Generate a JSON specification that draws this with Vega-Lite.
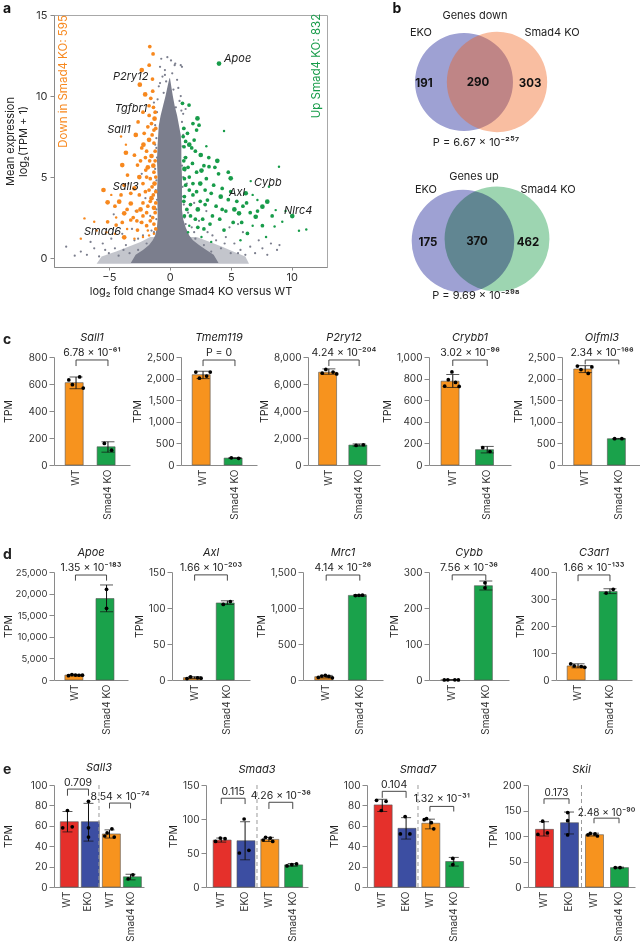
{
"$schema":"https://vega.github.io/schema/vega-lite/v6.json",
"padding":{"left":3,"top":2,"right":0,"bottom":0},
"background":"white",
"title":{"text":"a","anchor":"start","frame":"bounds","fontSize":14,"fontWeight":"bold","fontStyle":"normal","color":"#111","offset":-14},
"config":{
 "font":"Inter",
 "view":{"stroke":null},
 "legend":{"disable":true},
 "axis":{"grid":false,"labelOverlap":false,"labelSeparation":-50,"domainColor":"#8a8a8a","tickColor":"#8a8a8a","labelColor":"#333","titleColor":"#222","labelFontSize":10,"titleFontSize":10.5,"titleFontWeight":"normal","tickSize":5,"labelPadding":2,"titlePadding":4},
 "title":{"fontSize":11,"fontWeight":"normal","fontStyle":"italic","color":"#222","offset":5},
 "text":{"color":"#222"}
},
"datasets":{
 "core":[
  {"ya":-0.35,"xl":-6.0,"xr":6.5,"part":"b"},{"ya":0.1,"xl":-5.6,"xr":6.2,"part":"b"},{"ya":0.4,"xl":-4.4,"xr":5.2,"part":"b"},{"ya":0.7,"xl":-3.4,"xr":4.3,"part":"b"},{"ya":1.0,"xl":-2.4,"xr":3.3,"part":"b"},{"ya":1.3,"xl":-1.6,"xr":2.2,"part":"b"},
  {"ya":-0.3,"xl":-3.2,"xr":4.0,"part":"t"},{"ya":0.2,"xl":-2.8,"xr":3.6,"part":"t"},{"ya":0.5,"xl":-2.2,"xr":3.0,"part":"t"},{"ya":0.8,"xl":-1.7,"xr":2.4,"part":"t"},{"ya":1.1,"xl":-1.4,"xr":1.9,"part":"t"},{"ya":1.4,"xl":-1.2,"xr":1.6,"part":"t"},{"ya":1.9,"xl":-1.05,"xr":1.3,"part":"t"},{"ya":2.4,"xl":-1.0,"xr":1.1,"part":"t"},{"ya":3.0,"xl":-1.0,"xr":1.0,"part":"t"},{"ya":4.0,"xl":-1.05,"xr":1.0,"part":"t"},{"ya":5.0,"xl":-1.0,"xr":1.0,"part":"t"},{"ya":6.0,"xl":-1.05,"xr":0.95,"part":"t"},{"ya":7.0,"xl":-1.0,"xr":0.95,"part":"t"},{"ya":7.6,"xl":-0.95,"xr":0.9,"part":"t"},{"ya":8.2,"xl":-0.9,"xr":0.75,"part":"t"},{"ya":8.8,"xl":-0.75,"xr":0.6,"part":"t"},{"ya":9.4,"xl":-0.55,"xr":0.4,"part":"t"},{"ya":10.0,"xl":-0.35,"xr":0.25,"part":"t"},{"ya":10.6,"xl":-0.18,"xr":0.12,"part":"t"},{"ya":11.1,"xl":-0.03,"xr":0.02,"part":"t"}
 ],
 "sc":[
  {"x":-0.8,"y":11.8,"grp":"ns","p":1},{"x":-0.4,"y":11.6,"grp":"ns","p":1},{"x":0.1,"y":12.2,"grp":"ns","p":1},{"x":0.4,"y":11.9,"grp":"ns","p":1},{"x":1.0,"y":11.8,"grp":"ns","p":1},{"x":-0.6,"y":11.2,"grp":"ns","p":1},{"x":0.2,"y":11.4,"grp":"ns","p":1},{"x":-0.3,"y":10.9,"grp":"ns","p":1},{"x":0.6,"y":11.0,"grp":"ns","p":1},{"x":-0.9,"y":10.6,"grp":"ns","p":1},{"x":0.3,"y":10.4,"grp":"ns","p":1},{"x":0.9,"y":10.0,"grp":"ns","p":1},{"x":-0.5,"y":10.2,"grp":"ns","p":1},{"x":0.8,"y":9.7,"grp":"ns","p":1},{"x":1.3,"y":9.2,"grp":"ns","p":1},{"x":-1.0,"y":9.8,"grp":"ns","p":1},{"x":-0.2,"y":9.6,"grp":"ns","p":1},{"x":0.5,"y":9.3,"grp":"ns","p":1},{"x":1.1,"y":8.9,"grp":"ns","p":1},{"x":-1.2,"y":8.2,"grp":"ns","p":1},{"x":1.0,"y":8.4,"grp":"ns","p":1},{"x":-1.1,"y":6.8,"grp":"ns","p":1},{"x":1.1,"y":7.6,"grp":"ns","p":1},{"x":-1.2,"y":5.5,"grp":"ns","p":1},{"x":1.1,"y":5.0,"grp":"ns","p":1},{"x":1.2,"y":6.2,"grp":"ns","p":1},{"x":-1.15,"y":4.2,"grp":"ns","p":1},{"x":1.15,"y":3.3,"grp":"ns","p":1},{"x":-1.1,"y":3.0,"grp":"ns","p":1},{"x":1.2,"y":2.5,"grp":"ns","p":1},{"x":-8.5,"y":0.7,"grp":"ns","p":1},{"x":-7.3,"y":0.4,"grp":"ns","p":1},{"x":-6.8,"y":0.2,"grp":"ns","p":1},{"x":-6.2,"y":0.6,"grp":"ns","p":1},{"x":-5.8,"y":0.1,"grp":"ns","p":1},{"x":-5.5,"y":0.9,"grp":"ns","p":1},{"x":-5.0,"y":0.3,"grp":"ns","p":1},{"x":-4.8,"y":1.2,"grp":"ns","p":1},{"x":-4.5,"y":0.6,"grp":"ns","p":1},{"x":-4.2,"y":0.15,"grp":"ns","p":1},{"x":-3.9,"y":1.5,"grp":"ns","p":1},{"x":-3.6,"y":0.8,"grp":"ns","p":1},{"x":-3.3,"y":0.3,"grp":"ns","p":1},{"x":-3.1,"y":1.8,"grp":"ns","p":1},{"x":-2.9,"y":1.1,"grp":"ns","p":1},{"x":-2.6,"y":0.5,"grp":"ns","p":1},{"x":-2.4,"y":2.2,"grp":"ns","p":1},{"x":-2.2,"y":1.4,"grp":"ns","p":1},{"x":-1.9,"y":0.9,"grp":"ns","p":1},{"x":-1.6,"y":2.6,"grp":"ns","p":1},{"x":-1.5,"y":1.7,"grp":"ns","p":1},{"x":1.5,"y":2.8,"grp":"ns","p":1},{"x":1.8,"y":1.9,"grp":"ns","p":1},{"x":2.1,"y":1.2,"grp":"ns","p":1},{"x":2.4,"y":2.3,"grp":"ns","p":1},{"x":2.8,"y":0.8,"grp":"ns","p":1},{"x":3.1,"y":1.6,"grp":"ns","p":1},{"x":3.4,"y":0.4,"grp":"ns","p":1},{"x":3.8,"y":1.1,"grp":"ns","p":1},{"x":4.2,"y":0.6,"grp":"ns","p":1},{"x":4.6,"y":1.3,"grp":"ns","p":1},{"x":5.0,"y":0.3,"grp":"ns","p":1},{"x":5.3,"y":0.9,"grp":"ns","p":1},{"x":5.8,"y":0.5,"grp":"ns","p":1},{"x":6.2,"y":0.2,"grp":"ns","p":1},{"x":6.6,"y":0.7,"grp":"ns","p":1},{"x":7.0,"y":0.3,"grp":"ns","p":1},{"x":7.6,"y":0.6,"grp":"ns","p":1},{"x":8.3,"y":0.9,"grp":"ns","p":1},{"x":8.8,"y":0.5,"grp":"ns","p":1},{"x":9.0,"y":0.8,"grp":"ns","p":1},{"x":4.9,"y":1.9,"grp":"ns","p":1},{"x":5.6,"y":2.1,"grp":"ns","p":1},{"x":6.0,"y":1.6,"grp":"ns","p":1},{"x":-2.8,"y":2.9,"grp":"ns","p":1},{"x":-3.4,"y":4.6,"grp":"ns","p":1},{"x":-2.0,"y":3.7,"grp":"ns","p":1},{"x":-4.6,"y":2.7,"grp":"ns","p":1},{"x":-2.3,"y":5.2,"grp":"ns","p":1},{"x":-7.8,"y":0.15,"grp":"ns","p":1},{"x":-6.5,"y":1.0,"grp":"ns","p":1},{"x":7.3,"y":1.1,"grp":"ns","p":1},{"x":8.0,"y":0.2,"grp":"ns","p":1},{"x":2.0,"y":3.4,"grp":"ns","p":1},{"x":3.0,"y":2.9,"grp":"ns","p":1},{"x":-0.7,"y":12.3,"grp":"ns","p":1},{"x":0.9,"y":11.9,"grp":"ns","p":1},
  {"x":-1.05,"y":9.0,"grp":"ns","p":1},{"x":0.95,"y":9.1,"grp":"ns","p":1},{"x":-1.1,"y":7.4,"grp":"ns","p":1},{"x":1.05,"y":6.9,"grp":"ns","p":1},{"x":-1.05,"y":6.2,"grp":"ns","p":1},{"x":1.0,"y":5.7,"grp":"ns","p":1},{"x":-1.1,"y":4.8,"grp":"ns","p":1},{"x":1.05,"y":4.4,"grp":"ns","p":1},{"x":-1.05,"y":3.6,"grp":"ns","p":1},{"x":1.0,"y":3.8,"grp":"ns","p":1},{"x":-1.1,"y":2.4,"grp":"ns","p":1},{"x":1.3,"y":2.1,"grp":"ns","p":1},{"x":-1.3,"y":1.6,"grp":"ns","p":1},{"x":2.0,"y":1.6,"grp":"ns","p":1},{"x":-2.6,"y":1.2,"grp":"ns","p":1},{"x":3.5,"y":1.4,"grp":"ns","p":1},{"x":-3.8,"y":0.5,"grp":"ns","p":1},{"x":4.5,"y":0.9,"grp":"ns","p":1},{"x":-5.3,"y":0.5,"grp":"ns","p":1},{"x":5.6,"y":0.3,"grp":"ns","p":1},{"x":-0.8,"y":10.8,"grp":"ns","p":1},{"x":0.7,"y":10.5,"grp":"ns","p":1},{"x":-0.4,"y":11.3,"grp":"ns","p":1},{"x":0.45,"y":12.0,"grp":"ns","p":1},{"x":-1.3,"y":9.6,"grp":"ns","p":1},{"x":1.2,"y":8.0,"grp":"ns","p":1},{"x":-1.2,"y":7.0,"grp":"ns","p":1},{"x":1.25,"y":5.4,"grp":"ns","p":1},{"x":-0.2,"y":12.4,"grp":"ns","p":1},{"x":1.4,"y":4.6,"grp":"ns","p":1},
  {"x":-1.64,"y":13.05,"grp":"down","p":2},{"x":-1.37,"y":12.6,"grp":"down","p":2},{"x":-1.69,"y":11.9,"grp":"down","p":2},{"x":-2.3,"y":11.6,"grp":"down","p":3},{"x":-1.42,"y":11.05,"grp":"down","p":2},{"x":-2.46,"y":10.7,"grp":"down","p":3},{"x":-2.02,"y":10.1,"grp":"down","p":3},{"x":-1.56,"y":9.86,"grp":"down","p":2},{"x":-1.34,"y":9.3,"grp":"down","p":2},{"x":-1.2,"y":9.0,"grp":"down","p":2},{"x":-1.69,"y":8.8,"grp":"down","p":2},{"x":-1.25,"y":8.6,"grp":"down","p":3},{"x":-1.5,"y":8.3,"grp":"down","p":2},{"x":-2.1,"y":7.7,"grp":"down","p":2},{"x":-2.79,"y":7.6,"grp":"down","p":3},{"x":-4.0,"y":7.5,"grp":"down","p":1},{"x":-1.3,"y":7.9,"grp":"down","p":2},{"x":-1.7,"y":7.3,"grp":"down","p":3},{"x":-3.6,"y":7.0,"grp":"down","p":1},{"x":-2.16,"y":7.0,"grp":"down","p":3},{"x":-1.3,"y":7.1,"grp":"down","p":2},{"x":-1.9,"y":6.6,"grp":"down","p":2},{"x":-3.6,"y":6.5,"grp":"down","p":3},{"x":-2.9,"y":6.35,"grp":"down","p":2},{"x":-1.5,"y":6.3,"grp":"down","p":3},{"x":-1.2,"y":6.0,"grp":"down","p":2},{"x":-2.4,"y":6.0,"grp":"down","p":2},{"x":-3.9,"y":5.74,"grp":"down","p":3},{"x":-2.65,"y":5.74,"grp":"down","p":2},{"x":-1.8,"y":5.6,"grp":"down","p":3},{"x":-1.97,"y":5.43,"grp":"down","p":2},{"x":-1.3,"y":5.3,"grp":"down","p":2},{"x":-3.47,"y":5.12,"grp":"down","p":2},{"x":-2.5,"y":5.0,"grp":"down","p":3},{"x":-1.6,"y":4.9,"grp":"down","p":2},{"x":-2.2,"y":4.6,"grp":"down","p":2},{"x":-1.25,"y":4.6,"grp":"down","p":3},{"x":-5.44,"y":4.2,"grp":"down","p":3},{"x":-3.74,"y":4.5,"grp":"down","p":2},{"x":-2.9,"y":4.3,"grp":"down","p":3},{"x":-1.7,"y":4.2,"grp":"down","p":2},{"x":-4.8,"y":3.9,"grp":"down","p":1},{"x":-2.5,"y":3.9,"grp":"down","p":2},{"x":-1.35,"y":3.9,"grp":"down","p":2},{"x":-5.1,"y":3.44,"grp":"down","p":3},{"x":-4.15,"y":3.48,"grp":"down","p":3},{"x":-3.2,"y":3.37,"grp":"down","p":3},{"x":-2.2,"y":3.4,"grp":"down","p":2},{"x":-1.6,"y":3.5,"grp":"down","p":2},{"x":-4.5,"y":3.2,"grp":"down","p":2},{"x":-1.3,"y":3.1,"grp":"down","p":3},{"x":-3.74,"y":2.76,"grp":"down","p":3},{"x":-2.7,"y":2.9,"grp":"down","p":2},{"x":-1.9,"y":2.8,"grp":"down","p":2},{"x":-4.4,"y":2.5,"grp":"down","p":1},{"x":-3.0,"y":2.5,"grp":"down","p":2},{"x":-1.4,"y":2.5,"grp":"down","p":2},{"x":-7.0,"y":2.45,"grp":"down","p":1},{"x":-6.2,"y":2.24,"grp":"down","p":1},{"x":-5.1,"y":2.24,"grp":"down","p":2},{"x":-4.4,"y":2.04,"grp":"down","p":2},{"x":-3.2,"y":2.35,"grp":"down","p":2},{"x":-2.3,"y":2.2,"grp":"down","p":2},{"x":-1.3,"y":2.1,"grp":"down","p":2},{"x":-2.65,"y":1.73,"grp":"down","p":2},{"x":-3.5,"y":1.8,"grp":"down","p":1},{"x":-1.8,"y":1.7,"grp":"down","p":1},{"x":-7.3,"y":1.2,"grp":"down","p":1},{"x":-3.74,"y":1.28,"grp":"down","p":3},{"x":-4.5,"y":1.5,"grp":"down","p":1},{"x":-2.2,"y":1.3,"grp":"down","p":1},{"x":-5.2,"y":1.6,"grp":"down","p":1},{"x":-2.9,"y":1.2,"grp":"down","p":1},{"x":-6.0,"y":1.7,"grp":"down","p":1},
  {"x":-1.15,"y":8.0,"grp":"down","p":2},{"x":-1.45,"y":7.6,"grp":"down","p":2},{"x":-1.2,"y":6.6,"grp":"down","p":2},{"x":-1.65,"y":6.0,"grp":"down","p":2},{"x":-1.35,"y":5.7,"grp":"down","p":3},{"x":-1.15,"y":5.0,"grp":"down","p":2},{"x":-1.9,"y":5.0,"grp":"down","p":2},{"x":-1.45,"y":4.4,"grp":"down","p":2},{"x":-1.15,"y":4.1,"grp":"down","p":2},{"x":-2.0,"y":4.1,"grp":"down","p":2},{"x":-1.5,"y":3.7,"grp":"down","p":3},{"x":-1.15,"y":3.4,"grp":"down","p":2},{"x":-1.8,"y":3.2,"grp":"down","p":2},{"x":-2.4,"y":3.0,"grp":"down","p":3},{"x":-1.2,"y":2.8,"grp":"down","p":2},{"x":-1.6,"y":2.3,"grp":"down","p":2},{"x":-1.15,"y":1.8,"grp":"down","p":2},{"x":-1.9,"y":2.0,"grp":"down","p":2},{"x":-2.0,"y":6.2,"grp":"down","p":2},{"x":-2.3,"y":6.8,"grp":"down","p":2},{"x":-1.8,"y":8.1,"grp":"down","p":2},{"x":-1.4,"y":10.3,"grp":"down","p":2},{"x":-1.7,"y":9.4,"grp":"down","p":2},{"x":-2.2,"y":9.0,"grp":"down","p":2},{"x":-2.6,"y":8.4,"grp":"down","p":2},{"x":-3.2,"y":4.0,"grp":"down","p":2},{"x":-4.0,"y":3.9,"grp":"down","p":2},{"x":-3.5,"y":3.0,"grp":"down","p":2},{"x":-2.7,"y":2.3,"grp":"down","p":2},{"x":-3.9,"y":2.2,"grp":"down","p":2},{"x":-2.2,"y":2.6,"grp":"down","p":2},{"x":-1.3,"y":1.5,"grp":"down","p":1},{"x":-1.7,"y":1.4,"grp":"down","p":1},
  {"x":4.04,"y":12.0,"grp":"up","p":3},{"x":1.04,"y":9.55,"grp":"up","p":2},{"x":1.58,"y":9.44,"grp":"up","p":2},{"x":2.27,"y":8.62,"grp":"up","p":3},{"x":2.4,"y":8.2,"grp":"up","p":2},{"x":4.45,"y":7.84,"grp":"up","p":1},{"x":1.45,"y":7.7,"grp":"up","p":2},{"x":1.1,"y":7.5,"grp":"up","p":2},{"x":2.0,"y":7.28,"grp":"up","p":2},{"x":1.6,"y":7.0,"grp":"up","p":3},{"x":1.17,"y":6.87,"grp":"up","p":2},{"x":2.1,"y":6.6,"grp":"up","p":2},{"x":2.54,"y":6.36,"grp":"up","p":3},{"x":3.2,"y":6.2,"grp":"up","p":2},{"x":1.3,"y":6.2,"grp":"up","p":2},{"x":3.9,"y":6.0,"grp":"up","p":3},{"x":1.86,"y":5.84,"grp":"up","p":2},{"x":2.8,"y":5.7,"grp":"up","p":2},{"x":3.22,"y":5.64,"grp":"up","p":2},{"x":1.2,"y":5.5,"grp":"up","p":3},{"x":2.2,"y":5.3,"grp":"up","p":2},{"x":1.6,"y":5.0,"grp":"up","p":2},{"x":4.8,"y":5.3,"grp":"up","p":2},{"x":5.0,"y":4.92,"grp":"up","p":3},{"x":3.0,"y":4.9,"grp":"up","p":2},{"x":2.5,"y":4.6,"grp":"up","p":3},{"x":3.6,"y":4.5,"grp":"up","p":2},{"x":1.3,"y":4.5,"grp":"up","p":2},{"x":4.3,"y":4.3,"grp":"up","p":2},{"x":6.64,"y":4.75,"grp":"up","p":1},{"x":8.96,"y":5.64,"grp":"up","p":1},{"x":8.14,"y":4.4,"grp":"up","p":1},{"x":6.23,"y":4.0,"grp":"up","p":3},{"x":5.0,"y":4.1,"grp":"up","p":2},{"x":4.18,"y":3.79,"grp":"up","p":3},{"x":3.09,"y":3.58,"grp":"up","p":2},{"x":1.9,"y":3.9,"grp":"up","p":2},{"x":2.5,"y":3.5,"grp":"up","p":2},{"x":7.19,"y":3.58,"grp":"up","p":1},{"x":8.0,"y":3.48,"grp":"up","p":3},{"x":7.6,"y":3.17,"grp":"up","p":3},{"x":5.68,"y":2.76,"grp":"up","p":3},{"x":7.05,"y":2.55,"grp":"up","p":3},{"x":8.69,"y":2.96,"grp":"up","p":1},{"x":10.05,"y":2.59,"grp":"up","p":3},{"x":9.23,"y":2.24,"grp":"up","p":1},{"x":8.6,"y":1.95,"grp":"up","p":1},{"x":10.6,"y":1.69,"grp":"up","p":1},{"x":11.2,"y":1.77,"grp":"up","p":1},{"x":6.37,"y":1.52,"grp":"up","p":2},{"x":4.45,"y":1.73,"grp":"up","p":2},{"x":2.8,"y":1.8,"grp":"up","p":2},{"x":5.8,"y":1.1,"grp":"up","p":1},{"x":3.5,"y":2.6,"grp":"up","p":2},{"x":4.6,"y":2.9,"grp":"up","p":2},{"x":1.4,"y":3.0,"grp":"up","p":2},{"x":2.1,"y":2.4,"grp":"up","p":2},{"x":5.2,"y":2.2,"grp":"up","p":2},{"x":6.6,"y":2.8,"grp":"up","p":2},{"x":3.8,"y":3.2,"grp":"up","p":2},{"x":1.6,"y":2.0,"grp":"up","p":1},{"x":2.6,"y":1.3,"grp":"up","p":1},{"x":3.4,"y":1.0,"grp":"up","p":1},{"x":7.6,"y":2.0,"grp":"up","p":2},{"x":5.5,"y":3.5,"grp":"up","p":2},{"x":6.0,"y":3.2,"grp":"up","p":2},{"x":1.2,"y":3.8,"grp":"up","p":2},{"x":4.0,"y":5.2,"grp":"up","p":2},{"x":6.8,"y":2.0,"grp":"up","p":1},{"x":7.9,"y":1.3,"grp":"up","p":1},{"x":9.5,"y":2.9,"grp":"up","p":1},
  {"x":1.15,"y":8.0,"grp":"up","p":2},{"x":1.3,"y":7.2,"grp":"up","p":2},{"x":1.8,"y":6.8,"grp":"up","p":2},{"x":1.15,"y":6.0,"grp":"up","p":2},{"x":1.5,"y":5.6,"grp":"up","p":2},{"x":2.6,"y":5.4,"grp":"up","p":3},{"x":1.2,"y":4.9,"grp":"up","p":2},{"x":1.9,"y":4.6,"grp":"up","p":2},{"x":1.6,"y":4.2,"grp":"up","p":2},{"x":2.2,"y":4.1,"grp":"up","p":2},{"x":1.15,"y":3.5,"grp":"up","p":2},{"x":2.9,"y":4.2,"grp":"up","p":2},{"x":3.4,"y":4.0,"grp":"up","p":2},{"x":1.7,"y":3.3,"grp":"up","p":2},{"x":2.3,"y":3.0,"grp":"up","p":3},{"x":2.9,"y":3.3,"grp":"up","p":2},{"x":1.2,"y":2.6,"grp":"up","p":2},{"x":1.7,"y":2.6,"grp":"up","p":2},{"x":2.7,"y":2.4,"grp":"up","p":2},{"x":4.1,"y":2.4,"grp":"up","p":2},{"x":3.3,"y":2.1,"grp":"up","p":2},{"x":2.3,"y":1.9,"grp":"up","p":2},{"x":1.5,"y":1.6,"grp":"up","p":1},{"x":4.8,"y":3.6,"grp":"up","p":2},{"x":5.3,"y":3.0,"grp":"up","p":3},{"x":6.3,"y":3.4,"grp":"up","p":2},{"x":4.3,"y":3.0,"grp":"up","p":2},{"x":3.7,"y":5.6,"grp":"up","p":2},{"x":2.2,"y":7.9,"grp":"up","p":2},{"x":1.9,"y":8.3,"grp":"up","p":2},{"x":3.0,"y":6.9,"grp":"up","p":1},{"x":5.9,"y":2.2,"grp":"up","p":2},{"x":7.2,"y":2.9,"grp":"up","p":2},{"x":6.8,"y":3.9,"grp":"up","p":1},{"x":8.4,"y":2.6,"grp":"up","p":2}
 ],
 "glab":[
  {"lab":"P2ry12","x":-1.75,"y":11.2,"side":"down"},{"lab":"Tgfbr1","x":-1.85,"y":9.2,"side":"down"},{"lab":"Sall1","x":-3.2,"y":7.9,"side":"down"},{"lab":"Sall3","x":-2.55,"y":4.4,"side":"down"},{"lab":"Smad6","x":-4.0,"y":1.58,"side":"down"},
  {"lab":"Apoe","x":4.45,"y":12.3,"side":"up"},{"lab":"Cybb","x":6.9,"y":4.65,"side":"up"},{"lab":"Axl","x":4.86,"y":4.03,"side":"up"},{"lab":"Nlrc4","x":9.37,"y":2.9,"side":"up"}
 ],
 "side":[
  {"t":"Down in Smad4 KO: 595","x":-8.7,"y":10.9,"grp":"down"},
  {"t":"Up Smad4 KO: 832","x":12.1,"y":11.85,"grp":"up"}
 ],
 "vc":[
  {"set":"EKO down","x":124,"y":82},{"set":"Smad4 KO down","x":157,"y":82},{"set":"EKO up","x":123,"y":241},{"set":"Smad4 KO up","x":157,"y":239}
 ],
 "vt":[
  {"t":"b","x":57,"y":9,"k":"l"},
  {"t":"Genes down","x":135,"y":16,"k":"h"},{"t":"EKO","x":81,"y":33,"k":"h"},{"t":"Smad4 KO","x":212,"y":33,"k":"h"},
  {"t":"191","x":84,"y":84,"k":"n"},{"t":"290","x":138,"y":83,"k":"n"},{"t":"303","x":190,"y":84,"k":"n"},
  {"t":"P = 6.67 × 10⁻²⁵⁷","x":136,"y":143,"k":"h"},
  {"t":"Genes up","x":134,"y":177,"k":"h"},{"t":"EKO","x":86,"y":190,"k":"h"},{"t":"Smad4 KO","x":208,"y":190,"k":"h"},
  {"t":"175","x":88,"y":243,"k":"n"},{"t":"370","x":137,"y":242,"k":"n"},{"t":"462","x":188,"y":243,"k":"n"},
  {"t":"P = 9.69 × 10⁻²⁹⁸","x":136,"y":296,"k":"h"}
 ],
 "bars":[
  {"g":"Sall1","c":"WT","m":610,"lo":565,"hi":652},{"g":"Sall1","c":"Smad4 KO","m":135,"lo":95,"hi":172},
  {"g":"Tmem119","c":"WT","m":2090,"lo":2000,"hi":2170},{"g":"Tmem119","c":"Smad4 KO","m":160,"lo":150,"hi":170},
  {"g":"P2ry12","c":"WT","m":6870,"lo":6720,"hi":7120},{"g":"P2ry12","c":"Smad4 KO","m":1475,"lo":1400,"hi":1560},
  {"g":"Crybb1","c":"WT","m":776,"lo":718,"hi":838},{"g":"Crybb1","c":"Smad4 KO","m":142,"lo":112,"hi":172},
  {"g":"Olfml3","c":"WT","m":2222,"lo":2140,"hi":2300},{"g":"Olfml3","c":"Smad4 KO","m":608,"lo":600,"hi":615},
  {"g":"Apoe","c":"WT","m":1130,"lo":950,"hi":1300},{"g":"Apoe","c":"Smad4 KO","m":18850,"lo":15800,"hi":22000},
  {"g":"Axl","c":"WT","m":3.3,"lo":2,"hi":4.6},{"g":"Axl","c":"Smad4 KO","m":107,"lo":105,"hi":110},
  {"g":"Mrc1","c":"WT","m":46,"lo":28,"hi":64},{"g":"Mrc1","c":"Smad4 KO","m":1175,"lo":1165,"hi":1185},
  {"g":"Cybb","c":"WT","m":0.4,"lo":0.1,"hi":0.7},{"g":"Cybb","c":"Smad4 KO","m":262,"lo":250,"hi":275},
  {"g":"C3ar1","c":"WT","m":52,"lo":45,"hi":60},{"g":"C3ar1","c":"Smad4 KO","m":328,"lo":320,"hi":338},
  {"g":"Sall3","c":"WT ","m":64,"lo":54,"hi":74},{"g":"Sall3","c":"EKO","m":64,"lo":45,"hi":82},{"g":"Sall3","c":"WT","m":52,"lo":48,"hi":56},{"g":"Sall3","c":"Smad4 KO","m":10,"lo":7,"hi":12.5},
  {"g":"Smad3","c":"WT ","m":69,"lo":66,"hi":72},{"g":"Smad3","c":"EKO","m":68,"lo":40,"hi":96},{"g":"Smad3","c":"WT","m":70,"lo":67,"hi":73},{"g":"Smad3","c":"Smad4 KO","m":32.5,"lo":30.5,"hi":34.5},
  {"g":"Smad7","c":"WT ","m":80.5,"lo":74,"hi":86},{"g":"Smad7","c":"EKO","m":57.5,"lo":47,"hi":68},{"g":"Smad7","c":"WT","m":62.5,"lo":57,"hi":66.5},{"g":"Smad7","c":"Smad4 KO","m":25,"lo":20.5,"hi":29},
  {"g":"Skil","c":"WT ","m":113,"lo":100,"hi":128},{"g":"Skil","c":"EKO","m":126,"lo":104,"hi":147},{"g":"Skil","c":"WT","m":102.5,"lo":100,"hi":105.5},{"g":"Skil","c":"Smad4 KO","m":38,"lo":37,"hi":39}
 ],
 "reps":[
  {"g":"Sall1","c":"WT","r":1,"v":630},{"g":"Sall1","c":"WT","r":2,"v":595},{"g":"Sall1","c":"WT","r":4,"v":652},{"g":"Sall1","c":"WT","r":5,"v":570},{"g":"Sall1","c":"Smad4 KO","r":2,"v":160},{"g":"Sall1","c":"Smad4 KO","r":4,"v":110},
  {"g":"Tmem119","c":"WT","r":1,"v":2150},{"g":"Tmem119","c":"WT","r":2,"v":2010},{"g":"Tmem119","c":"WT","r":4,"v":2060},{"g":"Tmem119","c":"WT","r":5,"v":2150},{"g":"Tmem119","c":"Smad4 KO","r":2,"v":165},{"g":"Tmem119","c":"Smad4 KO","r":4,"v":155},
  {"g":"P2ry12","c":"WT","r":1,"v":6800},{"g":"P2ry12","c":"WT","r":2,"v":7080},{"g":"P2ry12","c":"WT","r":4,"v":6880},{"g":"P2ry12","c":"WT","r":5,"v":6750},{"g":"P2ry12","c":"Smad4 KO","r":2,"v":1450},{"g":"P2ry12","c":"Smad4 KO","r":4,"v":1500},
  {"g":"Crybb1","c":"WT","r":1,"v":730},{"g":"Crybb1","c":"WT","r":2,"v":790},{"g":"Crybb1","c":"WT","r":3,"v":862},{"g":"Crybb1","c":"WT","r":4,"v":765},{"g":"Crybb1","c":"WT","r":5,"v":728},{"g":"Crybb1","c":"Smad4 KO","r":2,"v":160},{"g":"Crybb1","c":"Smad4 KO","r":4,"v":125},
  {"g":"Olfml3","c":"WT","r":1,"v":2290},{"g":"Olfml3","c":"WT","r":2,"v":2210},{"g":"Olfml3","c":"WT","r":4,"v":2120},{"g":"Olfml3","c":"WT","r":5,"v":2270},{"g":"Olfml3","c":"Smad4 KO","r":2,"v":610},{"g":"Olfml3","c":"Smad4 KO","r":4,"v":608},
  {"g":"Apoe","c":"WT","r":1,"v":1000},{"g":"Apoe","c":"WT","r":2,"v":1250},{"g":"Apoe","c":"WT","r":3,"v":1150},{"g":"Apoe","c":"WT","r":4,"v":1100},{"g":"Apoe","c":"WT","r":5,"v":1120},{"g":"Apoe","c":"Smad4 KO","r":3,"v":21000},{"g":"Apoe","c":"Smad4 KO","r":3,"v":16600},
  {"g":"Axl","c":"WT","r":1,"v":2},{"g":"Axl","c":"WT","r":2,"v":4.5},{"g":"Axl","c":"WT","r":4,"v":3},{"g":"Axl","c":"WT","r":5,"v":2.5},{"g":"Axl","c":"Smad4 KO","r":2,"v":105},{"g":"Axl","c":"Smad4 KO","r":4,"v":109},
  {"g":"Mrc1","c":"WT","r":1,"v":35},{"g":"Mrc1","c":"WT","r":2,"v":55},{"g":"Mrc1","c":"WT","r":3,"v":65},{"g":"Mrc1","c":"WT","r":4,"v":50},{"g":"Mrc1","c":"WT","r":5,"v":30},{"g":"Mrc1","c":"Smad4 KO","r":2,"v":1172},{"g":"Mrc1","c":"Smad4 KO","r":3,"v":1176},{"g":"Mrc1","c":"Smad4 KO","r":4,"v":1178},
  {"g":"Cybb","c":"WT","r":1,"v":0.3},{"g":"Cybb","c":"WT","r":2,"v":0.5},{"g":"Cybb","c":"WT","r":4,"v":0.4},{"g":"Cybb","c":"WT","r":5,"v":0.3},{"g":"Cybb","c":"Smad4 KO","r":3,"v":270},{"g":"Cybb","c":"Smad4 KO","r":3,"v":256},
  {"g":"C3ar1","c":"WT","r":1,"v":60},{"g":"C3ar1","c":"WT","r":2,"v":52},{"g":"C3ar1","c":"WT","r":4,"v":50},{"g":"C3ar1","c":"WT","r":5,"v":47},{"g":"C3ar1","c":"Smad4 KO","r":2,"v":322},{"g":"C3ar1","c":"Smad4 KO","r":4,"v":336},
  {"g":"Sall3","c":"WT ","r":1,"v":58},{"g":"Sall3","c":"WT ","r":3,"v":75},{"g":"Sall3","c":"WT ","r":5,"v":59},{"g":"Sall3","c":"EKO","r":3,"v":84},{"g":"Sall3","c":"EKO","r":3,"v":58},{"g":"Sall3","c":"EKO","r":3,"v":49},{"g":"Sall3","c":"WT","r":1,"v":50},{"g":"Sall3","c":"WT","r":2,"v":53},{"g":"Sall3","c":"WT","r":4,"v":57},{"g":"Sall3","c":"WT","r":5,"v":49},{"g":"Sall3","c":"Smad4 KO","r":2,"v":8},{"g":"Sall3","c":"Smad4 KO","r":4,"v":12},
  {"g":"Smad3","c":"WT ","r":1,"v":67},{"g":"Smad3","c":"WT ","r":3,"v":72},{"g":"Smad3","c":"WT ","r":5,"v":71},{"g":"Smad3","c":"EKO","r":3,"v":100},{"g":"Smad3","c":"EKO","r":1,"v":50},{"g":"Smad3","c":"EKO","r":5,"v":54},{"g":"Smad3","c":"WT","r":1,"v":69},{"g":"Smad3","c":"WT","r":2,"v":73},{"g":"Smad3","c":"WT","r":4,"v":72},{"g":"Smad3","c":"WT","r":5,"v":67},{"g":"Smad3","c":"Smad4 KO","r":1,"v":31},{"g":"Smad3","c":"Smad4 KO","r":3,"v":33},{"g":"Smad3","c":"Smad4 KO","r":5,"v":34},
  {"g":"Smad7","c":"WT ","r":1,"v":85},{"g":"Smad7","c":"WT ","r":3,"v":75},{"g":"Smad7","c":"WT ","r":5,"v":84},{"g":"Smad7","c":"EKO","r":3,"v":69},{"g":"Smad7","c":"EKO","r":1,"v":52},{"g":"Smad7","c":"EKO","r":5,"v":52},{"g":"Smad7","c":"WT","r":1,"v":66},{"g":"Smad7","c":"WT","r":2,"v":67},{"g":"Smad7","c":"WT","r":4,"v":63},{"g":"Smad7","c":"WT","r":5,"v":57},{"g":"Smad7","c":"Smad4 KO","r":3,"v":28},{"g":"Smad7","c":"Smad4 KO","r":3,"v":22},
  {"g":"Skil","c":"WT ","r":1,"v":103},{"g":"Skil","c":"WT ","r":3,"v":129},{"g":"Skil","c":"WT ","r":5,"v":106},{"g":"Skil","c":"EKO","r":3,"v":146},{"g":"Skil","c":"EKO","r":3,"v":130},{"g":"Skil","c":"EKO","r":3,"v":102},{"g":"Skil","c":"WT","r":1,"v":102},{"g":"Skil","c":"WT","r":2,"v":105},{"g":"Skil","c":"WT","r":4,"v":104},{"g":"Skil","c":"WT","r":5,"v":100},{"g":"Skil","c":"Smad4 KO","r":2,"v":38},{"g":"Skil","c":"Smad4 KO","r":4,"v":38}
 ],
 "brk":[
  {"g":"Sall1","id":1,"c":"WT","o":1,"y":733},{"g":"Sall1","id":1,"c":"WT","o":2,"y":778},{"g":"Sall1","id":1,"c":"Smad4 KO","o":3,"y":778},{"g":"Sall1","id":1,"c":"Smad4 KO","o":4,"y":733},
  {"g":"Tmem119","id":1,"c":"WT","o":1,"y":2290},{"g":"Tmem119","id":1,"c":"WT","o":2,"y":2430},{"g":"Tmem119","id":1,"c":"Smad4 KO","o":3,"y":2430},{"g":"Tmem119","id":1,"c":"Smad4 KO","o":4,"y":2290},
  {"g":"P2ry12","id":1,"c":"WT","o":1,"y":7330},{"g":"P2ry12","id":1,"c":"WT","o":2,"y":7780},{"g":"P2ry12","id":1,"c":"Smad4 KO","o":3,"y":7780},{"g":"P2ry12","id":1,"c":"Smad4 KO","o":4,"y":7330},
  {"g":"Crybb1","id":1,"c":"WT","o":1,"y":917},{"g":"Crybb1","id":1,"c":"WT","o":2,"y":972},{"g":"Crybb1","id":1,"c":"Smad4 KO","o":3,"y":972},{"g":"Crybb1","id":1,"c":"Smad4 KO","o":4,"y":917},
  {"g":"Olfml3","id":1,"c":"WT","o":1,"y":2330},{"g":"Olfml3","id":1,"c":"WT","o":2,"y":2430},{"g":"Olfml3","id":1,"c":"Smad4 KO","o":3,"y":2430},{"g":"Olfml3","id":1,"c":"Smad4 KO","o":4,"y":2330},
  {"g":"Apoe","id":1,"c":"WT","o":1,"y":23000},{"g":"Apoe","id":1,"c":"WT","o":2,"y":24300},{"g":"Apoe","id":1,"c":"Smad4 KO","o":3,"y":24300},{"g":"Apoe","id":1,"c":"Smad4 KO","o":4,"y":23000},
  {"g":"Axl","id":1,"c":"WT","o":1,"y":138},{"g":"Axl","id":1,"c":"WT","o":2,"y":146},{"g":"Axl","id":1,"c":"Smad4 KO","o":3,"y":146},{"g":"Axl","id":1,"c":"Smad4 KO","o":4,"y":138},
  {"g":"Mrc1","id":1,"c":"WT","o":1,"y":1380},{"g":"Mrc1","id":1,"c":"WT","o":2,"y":1458},{"g":"Mrc1","id":1,"c":"Smad4 KO","o":3,"y":1458},{"g":"Mrc1","id":1,"c":"Smad4 KO","o":4,"y":1380},
  {"g":"Cybb","id":1,"c":"WT","o":1,"y":277},{"g":"Cybb","id":1,"c":"WT","o":2,"y":292},{"g":"Cybb","id":1,"c":"Smad4 KO","o":3,"y":292},{"g":"Cybb","id":1,"c":"Smad4 KO","o":4,"y":277},
  {"g":"C3ar1","id":1,"c":"WT","o":1,"y":366},{"g":"C3ar1","id":1,"c":"WT","o":2,"y":389},{"g":"C3ar1","id":1,"c":"Smad4 KO","o":3,"y":389},{"g":"C3ar1","id":1,"c":"Smad4 KO","o":4,"y":366},
  {"g":"Sall3","id":1,"c":"WT ","o":1,"y":89.5},{"g":"Sall3","id":1,"c":"WT ","o":2,"y":96},{"g":"Sall3","id":1,"c":"EKO","o":3,"y":96},{"g":"Sall3","id":1,"c":"EKO","o":4,"y":89.5},
  {"g":"Sall3","id":2,"c":"WT","o":1,"y":77},{"g":"Sall3","id":2,"c":"WT","o":2,"y":82.3},{"g":"Sall3","id":2,"c":"Smad4 KO","o":3,"y":82.3},{"g":"Sall3","id":2,"c":"Smad4 KO","o":4,"y":77},
  {"g":"Smad3","id":1,"c":"WT ","o":1,"y":122},{"g":"Smad3","id":1,"c":"WT ","o":2,"y":130.5},{"g":"Smad3","id":1,"c":"EKO","o":3,"y":130.5},{"g":"Smad3","id":1,"c":"EKO","o":4,"y":122},
  {"g":"Smad3","id":2,"c":"WT","o":1,"y":114.8},{"g":"Smad3","id":2,"c":"WT","o":2,"y":124.6},{"g":"Smad3","id":2,"c":"Smad4 KO","o":3,"y":124.6},{"g":"Smad3","id":2,"c":"Smad4 KO","o":4,"y":114.8},
  {"g":"Smad7","id":1,"c":"WT ","o":1,"y":87.4},{"g":"Smad7","id":1,"c":"WT ","o":2,"y":93.8},{"g":"Smad7","id":1,"c":"EKO","o":3,"y":93.8},{"g":"Smad7","id":1,"c":"EKO","o":4,"y":87.4},
  {"g":"Smad7","id":2,"c":"WT","o":1,"y":74},{"g":"Smad7","id":2,"c":"WT","o":2,"y":79},{"g":"Smad7","id":2,"c":"Smad4 KO","o":3,"y":79},{"g":"Smad7","id":2,"c":"Smad4 KO","o":4,"y":74},
  {"g":"Skil","id":1,"c":"WT ","o":1,"y":163},{"g":"Skil","id":1,"c":"WT ","o":2,"y":173},{"g":"Skil","id":1,"c":"EKO","o":3,"y":173},{"g":"Skil","id":1,"c":"EKO","o":4,"y":163},
  {"g":"Skil","id":2,"c":"WT","o":1,"y":125},{"g":"Skil","id":2,"c":"WT","o":2,"y":135},{"g":"Skil","id":2,"c":"Smad4 KO","o":3,"y":135},{"g":"Skil","id":2,"c":"Smad4 KO","o":4,"y":125}
 ],
 "pv":[
  {"g":"Sall1","c":"WT","y":830,"t":"6.78 × 10⁻⁶¹"},
  {"g":"Tmem119","c":"WT","y":2593,"t":"P = 0"},
  {"g":"P2ry12","c":"WT","y":8296,"t":"4.24 × 10⁻²⁰⁴"},
  {"g":"Crybb1","c":"WT","y":1037,"t":"3.02 × 10⁻⁹⁶"},
  {"g":"Olfml3","c":"WT","y":2593,"t":"2.34 × 10⁻¹⁶⁶"},
  {"g":"Apoe","c":"WT","y":25920,"t":"1.35 × 10⁻¹⁸³"},
  {"g":"Axl","c":"WT","y":155.5,"t":"1.66 × 10⁻²⁰³"},
  {"g":"Mrc1","c":"WT","y":1555,"t":"4.14 × 10⁻²⁶"},
  {"g":"Cybb","c":"WT","y":311,"t":"7.56 × 10⁻³⁶"},
  {"g":"C3ar1","c":"WT","y":415,"t":"1.66 × 10⁻¹³³"},
  {"g":"Sall3","c":"WT ","y":102,"t":"0.709"},{"g":"Sall3","c":"WT","y":88,"t":"8.54 × 10⁻⁷⁴"},
  {"g":"Smad3","c":"WT ","y":139,"t":"0.115"},{"g":"Smad3","c":"WT","y":134,"t":"4.26 × 10⁻³⁶"},
  {"g":"Smad7","c":"WT ","y":100,"t":"0.104"},{"g":"Smad7","c":"WT","y":86,"t":"1.32 × 10⁻³¹"},
  {"g":"Skil","c":"WT ","y":185,"t":"0.173"},{"g":"Skil","c":"WT","y":146,"t":"2.48 × 10⁻⁹⁰"}
 ]
},
"resolve":{"scale":{"color":"independent","size":"independent","x":"independent","y":"independent","xOffset":"independent"}},
"align":"none",
"spacing":26,
"vconcat":[
 {"spacing":4,"align":"each",
  "resolve":{"scale":{"color":"independent","size":"independent"}},
  "hconcat":[
  {"width":273,"height":252,
   "view":{"stroke":"#a8a8a8"},
   "layer":[
    {"data":{"name":"core"},"transform":[{"filter":"datum.part=='b'"}],"mark":{"type":"area","orient":"horizontal","color":"#7b7e8d","opacity":0.45},
     "encoding":{"y":{"field":"ya","type":"quantitative","title":["Mean expression","log₂(TPM + 1)"],"scale":{"domain":[-0.55,15],"nice":false,"zero":false},"axis":{"values":[0,5,10,15],"labelOverlap":false,"labelFontSize":11,"titleFontSize":11,"titlePadding":4,"tickSize":4,"labelPadding":3,"minExtent":22,"maxExtent":22}},
      "x":{"field":"xl","type":"quantitative","title":"log₂ fold change Smad4 KO versus WT","scale":{"domain":[-9.5,12.9],"nice":false,"zero":false},"axis":{"values":[-5,0,5,10],"labelOverlap":false,"labelFontSize":11,"titleFontSize":11,"titlePadding":3,"tickSize":3,"labelPadding":1}},
      "x2":{"field":"xr"}}},
    {"data":{"name":"core"},"transform":[{"filter":"datum.part=='t'"}],"mark":{"type":"area","orient":"horizontal","color":"#7b7e8d","opacity":1},
     "encoding":{"y":{"field":"ya","type":"quantitative","title":["Mean expression","log₂(TPM + 1)"]},"x":{"field":"xl","type":"quantitative","title":"log₂ fold change Smad4 KO versus WT"},"x2":{"field":"xr"}}},
    {"data":{"name":"sc"},"transform":[{"filter":"datum.grp=='ns'"}],"mark":{"type":"circle","color":"#7b7e8d","size":5,"opacity":1},
     "encoding":{"x":{"field":"x","type":"quantitative","title":"log₂ fold change Smad4 KO versus WT"},"y":{"field":"y","type":"quantitative","title":["Mean expression","log₂(TPM + 1)"]}}},
    {"data":{"name":"sc"},"transform":[{"filter":"datum.grp!='ns'"}],"mark":{"type":"circle","opacity":1},
     "encoding":{"x":{"field":"x","type":"quantitative","title":"log₂ fold change Smad4 KO versus WT"},"y":{"field":"y","type":"quantitative","title":["Mean expression","log₂(TPM + 1)"]},
      "color":{"field":"grp","type":"nominal","scale":{"domain":["down","up"],"range":["#f7881e","#189c4a"]},"legend":null},
      "size":{"field":"p","type":"ordinal","scale":{"domain":[1,2,3],"range":[6,22,50]},"legend":null}}},
    {"data":{"name":"glab"},"transform":[{"filter":"datum.side=='down'"}],"mark":{"type":"text","align":"right","baseline":"middle","fontStyle":"italic","fontSize":11},
     "encoding":{"x":{"field":"x","type":"quantitative","title":"log₂ fold change Smad4 KO versus WT"},"y":{"field":"y","type":"quantitative","title":["Mean expression","log₂(TPM + 1)"]},"text":{"field":"lab"}}},
    {"data":{"name":"glab"},"transform":[{"filter":"datum.side=='up'"}],"mark":{"type":"text","align":"left","baseline":"middle","fontStyle":"italic","fontSize":11},
     "encoding":{"x":{"field":"x","type":"quantitative","title":"log₂ fold change Smad4 KO versus WT"},"y":{"field":"y","type":"quantitative","title":["Mean expression","log₂(TPM + 1)"]},"text":{"field":"lab"}}},
    {"data":{"name":"side"},"mark":{"type":"text","angle":270,"align":"center","baseline":"middle","fontSize":11.5},
     "encoding":{"x":{"field":"x","type":"quantitative","title":"log₂ fold change Smad4 KO versus WT"},"y":{"field":"y","type":"quantitative","title":["Mean expression","log₂(TPM + 1)"]},"text":{"field":"t"},
      "color":{"field":"grp","type":"nominal","scale":{"domain":["down","up"],"range":["#f7881e","#189c4a"]},"legend":null}}}
   ]},
  {"width":296,"height":290,
   "layer":[
    {"data":{"name":"vc"},"transform":[{"filter":"datum.set=='EKO down' || datum.set=='EKO up'"}],"mark":{"type":"point","filled":true,"shape":"circle","opacity":1,"strokeWidth":0,"color":"#9ea1d3"},
     "encoding":{"x":{"field":"x","type":"quantitative","scale":{"domain":[-8,288],"nice":false,"zero":false},"axis":null},
      "y":{"field":"y","type":"quantitative","scale":{"domain":[15,305],"nice":false,"zero":false,"reverse":true},"axis":null},
      "size":{"field":"set","type":"ordinal","scale":{"domain":["EKO down","Smad4 KO down","EKO up","Smad4 KO up"],"range":[9600,11000,9200,10800]},"legend":null}}},
    {"data":{"name":"vc"},"transform":[{"filter":"datum.set=='Smad4 KO down'"}],"mark":{"type":"point","filled":true,"shape":"circle","opacity":0.4,"strokeWidth":0,"color":"#f05c14"},
     "encoding":{"x":{"field":"x","type":"quantitative"},"y":{"field":"y","type":"quantitative"},
      "size":{"field":"set","type":"ordinal","scale":{"domain":["EKO down","Smad4 KO down","EKO up","Smad4 KO up"],"range":[9600,11000,9200,10800]},"legend":null}}},
    {"data":{"name":"vc"},"transform":[{"filter":"datum.set=='Smad4 KO up'"}],"mark":{"type":"point","filled":true,"shape":"circle","opacity":1,"strokeWidth":0,"color":"#9dd5b1","blend":"multiply"},
     "encoding":{"x":{"field":"x","type":"quantitative"},"y":{"field":"y","type":"quantitative"},
      "size":{"field":"set","type":"ordinal","scale":{"domain":["EKO down","Smad4 KO down","EKO up","Smad4 KO up"],"range":[9600,11000,9200,10800]},"legend":null}}},
    {"data":{"name":"vt"},"transform":[{"filter":"datum.k=='h'"}],"mark":{"type":"text","fontSize":11,"baseline":"middle"},
     "encoding":{"x":{"field":"x","type":"quantitative"},"y":{"field":"y","type":"quantitative"},"text":{"field":"t"}}},
    {"data":{"name":"vt"},"transform":[{"filter":"datum.k=='n'"}],"mark":{"type":"text","fontSize":11.5,"fontWeight":"bold","baseline":"middle","color":"#111"},
     "encoding":{"x":{"field":"x","type":"quantitative"},"y":{"field":"y","type":"quantitative"},"text":{"field":"t"}}},
    {"data":{"name":"vt"},"transform":[{"filter":"datum.k=='l'"}],"mark":{"type":"text","fontSize":14,"fontWeight":"bold","baseline":"middle","color":"#111"},
     "encoding":{"x":{"field":"x","type":"quantitative"},"y":{"field":"y","type":"quantitative"},"text":{"field":"t"}}}
   ]}
 ]},
 {"title":{"text":"c","anchor":"start","frame":"bounds","fontSize":14,"fontWeight":"bold","fontStyle":"normal","offset":-15},
  "spacing":2,"align":"each",
  "hconcat":[
   {"width":76,"height":108,"title":"Sall1","resolve":{"axis":{"y":"independent"}},"layer":[
    {"data":{"name":"bars"},"transform":[{"filter":{"field":"g","equal":"Sall1"}}],"mark":{"type":"bar","stroke":"#555","strokeWidth":0.6},"encoding":{"x":{"field":"c","type":"nominal","title":null,"scale":{"domain":["WT","Smad4 KO"],"paddingInner":0.32,"paddingOuter":0.35},"axis":{"labelAngle":-90,"ticks":false,"labelPadding":4}},"y":{"field":"m","type":"quantitative","title":"TPM","scale":{"domain":[0,800],"nice":false},"axis":{"values":[0,200,400,600,800],"labelOverlap":false,"labelSeparation":-60,"minExtent":37,"maxExtent":37}},"color":{"field":"c","type":"nominal","scale":{"domain":["WT","Smad4 KO","WT ","EKO"],"range":["#f7931e","#1aa24b","#e5302b","#3c4ea2"]},"legend":null}}},
    {"data":{"name":"bars"},"transform":[{"filter":{"field":"g","equal":"Sall1"}}],"mark":{"type":"errorbar","ticks":{"size":13},"color":"#111","thickness":1},"encoding":{"x":{"field":"c","type":"nominal","title":null},"y":{"field":"lo","type":"quantitative","title":"TPM","axis":null},"y2":{"field":"hi"}}},
    {"data":{"name":"reps"},"transform":[{"filter":{"field":"g","equal":"Sall1"}}],"mark":{"type":"circle","color":"#000","size":14,"opacity":1},"encoding":{"x":{"field":"c","type":"nominal","title":null},"xOffset":{"field":"r","type":"ordinal","scale":{"domain":[1,2,3,4,5],"paddingOuter":1}},"y":{"field":"v","type":"quantitative","title":"TPM","axis":null}}},
    {"data":{"name":"brk"},"transform":[{"filter":{"field":"g","equal":"Sall1"}}],"mark":{"type":"line","color":"#333","strokeWidth":0.9},"encoding":{"x":{"field":"c","type":"nominal","title":null},"y":{"field":"y","type":"quantitative","title":"TPM","axis":null},"order":{"field":"o","type":"quantitative"},"detail":{"field":"id","type":"nominal"}}},
    {"data":{"name":"pv"},"transform":[{"filter":{"field":"g","equal":"Sall1"}}],"mark":{"type":"text","fontSize":10.5,"baseline":"middle"},"encoding":{"x":{"field":"c","type":"nominal","title":null,"bandPosition":1.235},"y":{"field":"y","type":"quantitative","title":"TPM","axis":null},"text":{"field":"t"}}}
   ]},
   {"width":76,"height":108,"title":"Tmem119","resolve":{"axis":{"y":"independent"}},"layer":[
    {"data":{"name":"bars"},"transform":[{"filter":{"field":"g","equal":"Tmem119"}}],"mark":{"type":"bar","stroke":"#555","strokeWidth":0.6},"encoding":{"x":{"field":"c","type":"nominal","title":null,"scale":{"domain":["WT","Smad4 KO"],"paddingInner":0.32,"paddingOuter":0.35},"axis":{"labelAngle":-90,"ticks":false,"labelPadding":4}},"y":{"field":"m","type":"quantitative","title":"TPM","scale":{"domain":[0,2500],"nice":false},"axis":{"values":[0,500,1000,1500,2000,2500],"labelOverlap":false,"labelSeparation":-60}},"color":{"field":"c","type":"nominal","scale":{"domain":["WT","Smad4 KO","WT ","EKO"],"range":["#f7931e","#1aa24b","#e5302b","#3c4ea2"]},"legend":null}}},
    {"data":{"name":"bars"},"transform":[{"filter":{"field":"g","equal":"Tmem119"}}],"mark":{"type":"errorbar","ticks":{"size":13},"color":"#111","thickness":1},"encoding":{"x":{"field":"c","type":"nominal","title":null},"y":{"field":"lo","type":"quantitative","title":"TPM","axis":null},"y2":{"field":"hi"}}},
    {"data":{"name":"reps"},"transform":[{"filter":{"field":"g","equal":"Tmem119"}}],"mark":{"type":"circle","color":"#000","size":14,"opacity":1},"encoding":{"x":{"field":"c","type":"nominal","title":null},"xOffset":{"field":"r","type":"ordinal","scale":{"domain":[1,2,3,4,5],"paddingOuter":1}},"y":{"field":"v","type":"quantitative","title":"TPM","axis":null}}},
    {"data":{"name":"brk"},"transform":[{"filter":{"field":"g","equal":"Tmem119"}}],"mark":{"type":"line","color":"#333","strokeWidth":0.9},"encoding":{"x":{"field":"c","type":"nominal","title":null},"y":{"field":"y","type":"quantitative","title":"TPM","axis":null},"order":{"field":"o","type":"quantitative"},"detail":{"field":"id","type":"nominal"}}},
    {"data":{"name":"pv"},"transform":[{"filter":{"field":"g","equal":"Tmem119"}}],"mark":{"type":"text","fontSize":10.5,"baseline":"middle"},"encoding":{"x":{"field":"c","type":"nominal","title":null,"bandPosition":1.235},"y":{"field":"y","type":"quantitative","title":"TPM","axis":null},"text":{"field":"t"}}}
   ]},
   {"width":72,"height":108,"title":"P2ry12","resolve":{"axis":{"y":"independent"}},"layer":[
    {"data":{"name":"bars"},"transform":[{"filter":{"field":"g","equal":"P2ry12"}}],"mark":{"type":"bar","stroke":"#555","strokeWidth":0.6},"encoding":{"x":{"field":"c","type":"nominal","title":null,"scale":{"domain":["WT","Smad4 KO"],"paddingInner":0.32,"paddingOuter":0.35},"axis":{"labelAngle":-90,"ticks":false,"labelPadding":4}},"y":{"field":"m","type":"quantitative","title":"TPM","scale":{"domain":[0,8000],"nice":false},"axis":{"values":[0,2000,4000,6000,8000],"labelOverlap":false,"labelSeparation":-60}},"color":{"field":"c","type":"nominal","scale":{"domain":["WT","Smad4 KO","WT ","EKO"],"range":["#f7931e","#1aa24b","#e5302b","#3c4ea2"]},"legend":null}}},
    {"data":{"name":"bars"},"transform":[{"filter":{"field":"g","equal":"P2ry12"}}],"mark":{"type":"errorbar","ticks":{"size":13},"color":"#111","thickness":1},"encoding":{"x":{"field":"c","type":"nominal","title":null},"y":{"field":"lo","type":"quantitative","title":"TPM","axis":null},"y2":{"field":"hi"}}},
    {"data":{"name":"reps"},"transform":[{"filter":{"field":"g","equal":"P2ry12"}}],"mark":{"type":"circle","color":"#000","size":14,"opacity":1},"encoding":{"x":{"field":"c","type":"nominal","title":null},"xOffset":{"field":"r","type":"ordinal","scale":{"domain":[1,2,3,4,5],"paddingOuter":1}},"y":{"field":"v","type":"quantitative","title":"TPM","axis":null}}},
    {"data":{"name":"brk"},"transform":[{"filter":{"field":"g","equal":"P2ry12"}}],"mark":{"type":"line","color":"#333","strokeWidth":0.9},"encoding":{"x":{"field":"c","type":"nominal","title":null},"y":{"field":"y","type":"quantitative","title":"TPM","axis":null},"order":{"field":"o","type":"quantitative"},"detail":{"field":"id","type":"nominal"}}},
    {"data":{"name":"pv"},"transform":[{"filter":{"field":"g","equal":"P2ry12"}}],"mark":{"type":"text","fontSize":10.5,"baseline":"middle"},"encoding":{"x":{"field":"c","type":"nominal","title":null,"bandPosition":1.235},"y":{"field":"y","type":"quantitative","title":"TPM","axis":null},"text":{"field":"t"}}}
   ]},
   {"width":82,"height":108,"title":"Crybb1","resolve":{"axis":{"y":"independent"}},"layer":[
    {"data":{"name":"bars"},"transform":[{"filter":{"field":"g","equal":"Crybb1"}}],"mark":{"type":"bar","stroke":"#555","strokeWidth":0.6},"encoding":{"x":{"field":"c","type":"nominal","title":null,"scale":{"domain":["WT","Smad4 KO"],"paddingInner":0.32,"paddingOuter":0.35},"axis":{"labelAngle":-90,"ticks":false,"labelPadding":4}},"y":{"field":"m","type":"quantitative","title":"TPM","scale":{"domain":[0,1000],"nice":false},"axis":{"values":[0,200,400,600,800,1000],"labelOverlap":false,"labelSeparation":-60}},"color":{"field":"c","type":"nominal","scale":{"domain":["WT","Smad4 KO","WT ","EKO"],"range":["#f7931e","#1aa24b","#e5302b","#3c4ea2"]},"legend":null}}},
    {"data":{"name":"bars"},"transform":[{"filter":{"field":"g","equal":"Crybb1"}}],"mark":{"type":"errorbar","ticks":{"size":13},"color":"#111","thickness":1},"encoding":{"x":{"field":"c","type":"nominal","title":null},"y":{"field":"lo","type":"quantitative","title":"TPM","axis":null},"y2":{"field":"hi"}}},
    {"data":{"name":"reps"},"transform":[{"filter":{"field":"g","equal":"Crybb1"}}],"mark":{"type":"circle","color":"#000","size":14,"opacity":1},"encoding":{"x":{"field":"c","type":"nominal","title":null},"xOffset":{"field":"r","type":"ordinal","scale":{"domain":[1,2,3,4,5],"paddingOuter":1}},"y":{"field":"v","type":"quantitative","title":"TPM","axis":null}}},
    {"data":{"name":"brk"},"transform":[{"filter":{"field":"g","equal":"Crybb1"}}],"mark":{"type":"line","color":"#333","strokeWidth":0.9},"encoding":{"x":{"field":"c","type":"nominal","title":null},"y":{"field":"y","type":"quantitative","title":"TPM","axis":null},"order":{"field":"o","type":"quantitative"},"detail":{"field":"id","type":"nominal"}}},
    {"data":{"name":"pv"},"transform":[{"filter":{"field":"g","equal":"Crybb1"}}],"mark":{"type":"text","fontSize":10.5,"baseline":"middle"},"encoding":{"x":{"field":"c","type":"nominal","title":null,"bandPosition":1.235},"y":{"field":"y","type":"quantitative","title":"TPM","axis":null},"text":{"field":"t"}}}
   ]},
   {"width":80,"height":108,"title":"Olfml3","resolve":{"axis":{"y":"independent"}},"layer":[
    {"data":{"name":"bars"},"transform":[{"filter":{"field":"g","equal":"Olfml3"}}],"mark":{"type":"bar","stroke":"#555","strokeWidth":0.6},"encoding":{"x":{"field":"c","type":"nominal","title":null,"scale":{"domain":["WT","Smad4 KO"],"paddingInner":0.32,"paddingOuter":0.35},"axis":{"labelAngle":-90,"ticks":false,"labelPadding":4}},"y":{"field":"m","type":"quantitative","title":"TPM","scale":{"domain":[0,2500],"nice":false},"axis":{"values":[0,500,1000,1500,2000,2500],"labelOverlap":false,"labelSeparation":-60}},"color":{"field":"c","type":"nominal","scale":{"domain":["WT","Smad4 KO","WT ","EKO"],"range":["#f7931e","#1aa24b","#e5302b","#3c4ea2"]},"legend":null}}},
    {"data":{"name":"bars"},"transform":[{"filter":{"field":"g","equal":"Olfml3"}}],"mark":{"type":"errorbar","ticks":{"size":13},"color":"#111","thickness":1},"encoding":{"x":{"field":"c","type":"nominal","title":null},"y":{"field":"lo","type":"quantitative","title":"TPM","axis":null},"y2":{"field":"hi"}}},
    {"data":{"name":"reps"},"transform":[{"filter":{"field":"g","equal":"Olfml3"}}],"mark":{"type":"circle","color":"#000","size":14,"opacity":1},"encoding":{"x":{"field":"c","type":"nominal","title":null},"xOffset":{"field":"r","type":"ordinal","scale":{"domain":[1,2,3,4,5],"paddingOuter":1}},"y":{"field":"v","type":"quantitative","title":"TPM","axis":null}}},
    {"data":{"name":"brk"},"transform":[{"filter":{"field":"g","equal":"Olfml3"}}],"mark":{"type":"line","color":"#333","strokeWidth":0.9},"encoding":{"x":{"field":"c","type":"nominal","title":null},"y":{"field":"y","type":"quantitative","title":"TPM","axis":null},"order":{"field":"o","type":"quantitative"},"detail":{"field":"id","type":"nominal"}}},
    {"data":{"name":"pv"},"transform":[{"filter":{"field":"g","equal":"Olfml3"}}],"mark":{"type":"text","fontSize":10.5,"baseline":"middle"},"encoding":{"x":{"field":"c","type":"nominal","title":null,"bandPosition":1.235},"y":{"field":"y","type":"quantitative","title":"TPM","axis":null},"text":{"field":"t"}}}
   ]}
 ]},
 {"title":{"text":"d","anchor":"start","frame":"bounds","fontSize":14,"fontWeight":"bold","fontStyle":"normal","offset":-15},
  "spacing":6,"align":"each",
  "hconcat":[
   {"width":74,"height":108,"title":"Apoe","resolve":{"axis":{"y":"independent"}},"layer":[
    {"data":{"name":"bars"},"transform":[{"filter":{"field":"g","equal":"Apoe"}}],"mark":{"type":"bar","stroke":"#555","strokeWidth":0.6},"encoding":{"x":{"field":"c","type":"nominal","title":null,"scale":{"domain":["WT","Smad4 KO"],"paddingInner":0.32,"paddingOuter":0.35},"axis":{"labelAngle":-90,"ticks":false,"labelPadding":4}},"y":{"field":"m","type":"quantitative","title":"TPM","scale":{"domain":[0,25000],"nice":false},"axis":{"values":[0,5000,10000,15000,20000,25000],"labelOverlap":false,"labelSeparation":-60,"labelFontSize":9.5,"minExtent":37,"maxExtent":37}},"color":{"field":"c","type":"nominal","scale":{"domain":["WT","Smad4 KO","WT ","EKO"],"range":["#f7931e","#1aa24b","#e5302b","#3c4ea2"]},"legend":null}}},
    {"data":{"name":"bars"},"transform":[{"filter":{"field":"g","equal":"Apoe"}}],"mark":{"type":"errorbar","ticks":{"size":13},"color":"#111","thickness":1},"encoding":{"x":{"field":"c","type":"nominal","title":null},"y":{"field":"lo","type":"quantitative","title":"TPM","axis":null},"y2":{"field":"hi"}}},
    {"data":{"name":"reps"},"transform":[{"filter":{"field":"g","equal":"Apoe"}}],"mark":{"type":"circle","color":"#000","size":14,"opacity":1},"encoding":{"x":{"field":"c","type":"nominal","title":null},"xOffset":{"field":"r","type":"ordinal","scale":{"domain":[1,2,3,4,5],"paddingOuter":1}},"y":{"field":"v","type":"quantitative","title":"TPM","axis":null}}},
    {"data":{"name":"brk"},"transform":[{"filter":{"field":"g","equal":"Apoe"}}],"mark":{"type":"line","color":"#333","strokeWidth":0.9},"encoding":{"x":{"field":"c","type":"nominal","title":null},"y":{"field":"y","type":"quantitative","title":"TPM","axis":null},"order":{"field":"o","type":"quantitative"},"detail":{"field":"id","type":"nominal"}}},
    {"data":{"name":"pv"},"transform":[{"filter":{"field":"g","equal":"Apoe"}}],"mark":{"type":"text","fontSize":10.5,"baseline":"middle"},"encoding":{"x":{"field":"c","type":"nominal","title":null,"bandPosition":1.235},"y":{"field":"y","type":"quantitative","title":"TPM","axis":null},"text":{"field":"t"}}}
   ]},
   {"width":78,"height":108,"title":"Axl","resolve":{"axis":{"y":"independent"}},"layer":[
    {"data":{"name":"bars"},"transform":[{"filter":{"field":"g","equal":"Axl"}}],"mark":{"type":"bar","stroke":"#555","strokeWidth":0.6},"encoding":{"x":{"field":"c","type":"nominal","title":null,"scale":{"domain":["WT","Smad4 KO"],"paddingInner":0.32,"paddingOuter":0.35},"axis":{"labelAngle":-90,"ticks":false,"labelPadding":4}},"y":{"field":"m","type":"quantitative","title":"TPM","scale":{"domain":[0,150],"nice":false},"axis":{"values":[0,50,100,150],"labelOverlap":false,"labelSeparation":-60}},"color":{"field":"c","type":"nominal","scale":{"domain":["WT","Smad4 KO","WT ","EKO"],"range":["#f7931e","#1aa24b","#e5302b","#3c4ea2"]},"legend":null}}},
    {"data":{"name":"bars"},"transform":[{"filter":{"field":"g","equal":"Axl"}}],"mark":{"type":"errorbar","ticks":{"size":13},"color":"#111","thickness":1},"encoding":{"x":{"field":"c","type":"nominal","title":null},"y":{"field":"lo","type":"quantitative","title":"TPM","axis":null},"y2":{"field":"hi"}}},
    {"data":{"name":"reps"},"transform":[{"filter":{"field":"g","equal":"Axl"}}],"mark":{"type":"circle","color":"#000","size":14,"opacity":1},"encoding":{"x":{"field":"c","type":"nominal","title":null},"xOffset":{"field":"r","type":"ordinal","scale":{"domain":[1,2,3,4,5],"paddingOuter":1}},"y":{"field":"v","type":"quantitative","title":"TPM","axis":null}}},
    {"data":{"name":"brk"},"transform":[{"filter":{"field":"g","equal":"Axl"}}],"mark":{"type":"line","color":"#333","strokeWidth":0.9},"encoding":{"x":{"field":"c","type":"nominal","title":null},"y":{"field":"y","type":"quantitative","title":"TPM","axis":null},"order":{"field":"o","type":"quantitative"},"detail":{"field":"id","type":"nominal"}}},
    {"data":{"name":"pv"},"transform":[{"filter":{"field":"g","equal":"Axl"}}],"mark":{"type":"text","fontSize":10.5,"baseline":"middle"},"encoding":{"x":{"field":"c","type":"nominal","title":null,"bandPosition":1.235},"y":{"field":"y","type":"quantitative","title":"TPM","axis":null},"text":{"field":"t"}}}
   ]},
   {"width":80,"height":108,"title":"Mrc1","resolve":{"axis":{"y":"independent"}},"layer":[
    {"data":{"name":"bars"},"transform":[{"filter":{"field":"g","equal":"Mrc1"}}],"mark":{"type":"bar","stroke":"#555","strokeWidth":0.6},"encoding":{"x":{"field":"c","type":"nominal","title":null,"scale":{"domain":["WT","Smad4 KO"],"paddingInner":0.32,"paddingOuter":0.35},"axis":{"labelAngle":-90,"ticks":false,"labelPadding":4}},"y":{"field":"m","type":"quantitative","title":"TPM","scale":{"domain":[0,1500],"nice":false},"axis":{"values":[0,500,1000,1500],"labelOverlap":false,"labelSeparation":-60}},"color":{"field":"c","type":"nominal","scale":{"domain":["WT","Smad4 KO","WT ","EKO"],"range":["#f7931e","#1aa24b","#e5302b","#3c4ea2"]},"legend":null}}},
    {"data":{"name":"bars"},"transform":[{"filter":{"field":"g","equal":"Mrc1"}}],"mark":{"type":"errorbar","ticks":{"size":13},"color":"#111","thickness":1},"encoding":{"x":{"field":"c","type":"nominal","title":null},"y":{"field":"lo","type":"quantitative","title":"TPM","axis":null},"y2":{"field":"hi"}}},
    {"data":{"name":"reps"},"transform":[{"filter":{"field":"g","equal":"Mrc1"}}],"mark":{"type":"circle","color":"#000","size":14,"opacity":1},"encoding":{"x":{"field":"c","type":"nominal","title":null},"xOffset":{"field":"r","type":"ordinal","scale":{"domain":[1,2,3,4,5],"paddingOuter":1}},"y":{"field":"v","type":"quantitative","title":"TPM","axis":null}}},
    {"data":{"name":"brk"},"transform":[{"filter":{"field":"g","equal":"Mrc1"}}],"mark":{"type":"line","color":"#333","strokeWidth":0.9},"encoding":{"x":{"field":"c","type":"nominal","title":null},"y":{"field":"y","type":"quantitative","title":"TPM","axis":null},"order":{"field":"o","type":"quantitative"},"detail":{"field":"id","type":"nominal"}}},
    {"data":{"name":"pv"},"transform":[{"filter":{"field":"g","equal":"Mrc1"}}],"mark":{"type":"text","fontSize":10.5,"baseline":"middle"},"encoding":{"x":{"field":"c","type":"nominal","title":null,"bandPosition":1.235},"y":{"field":"y","type":"quantitative","title":"TPM","axis":null},"text":{"field":"t"}}}
   ]},
   {"width":80,"height":108,"title":"Cybb","resolve":{"axis":{"y":"independent"}},"layer":[
    {"data":{"name":"bars"},"transform":[{"filter":{"field":"g","equal":"Cybb"}}],"mark":{"type":"bar","stroke":"#555","strokeWidth":0.6},"encoding":{"x":{"field":"c","type":"nominal","title":null,"scale":{"domain":["WT","Smad4 KO"],"paddingInner":0.32,"paddingOuter":0.35},"axis":{"labelAngle":-90,"ticks":false,"labelPadding":4}},"y":{"field":"m","type":"quantitative","title":"TPM","scale":{"domain":[0,300],"nice":false},"axis":{"values":[0,100,200,300],"labelOverlap":false,"labelSeparation":-60}},"color":{"field":"c","type":"nominal","scale":{"domain":["WT","Smad4 KO","WT ","EKO"],"range":["#f7931e","#1aa24b","#e5302b","#3c4ea2"]},"legend":null}}},
    {"data":{"name":"bars"},"transform":[{"filter":{"field":"g","equal":"Cybb"}}],"mark":{"type":"errorbar","ticks":{"size":13},"color":"#111","thickness":1},"encoding":{"x":{"field":"c","type":"nominal","title":null},"y":{"field":"lo","type":"quantitative","title":"TPM","axis":null},"y2":{"field":"hi"}}},
    {"data":{"name":"reps"},"transform":[{"filter":{"field":"g","equal":"Cybb"}}],"mark":{"type":"circle","color":"#000","size":14,"opacity":1},"encoding":{"x":{"field":"c","type":"nominal","title":null},"xOffset":{"field":"r","type":"ordinal","scale":{"domain":[1,2,3,4,5],"paddingOuter":1}},"y":{"field":"v","type":"quantitative","title":"TPM","axis":null}}},
    {"data":{"name":"brk"},"transform":[{"filter":{"field":"g","equal":"Cybb"}}],"mark":{"type":"line","color":"#333","strokeWidth":0.9},"encoding":{"x":{"field":"c","type":"nominal","title":null},"y":{"field":"y","type":"quantitative","title":"TPM","axis":null},"order":{"field":"o","type":"quantitative"},"detail":{"field":"id","type":"nominal"}}},
    {"data":{"name":"pv"},"transform":[{"filter":{"field":"g","equal":"Cybb"}}],"mark":{"type":"text","fontSize":10.5,"baseline":"middle"},"encoding":{"x":{"field":"c","type":"nominal","title":null,"bandPosition":1.235},"y":{"field":"y","type":"quantitative","title":"TPM","axis":null},"text":{"field":"t"}}}
   ]},
   {"width":76,"height":108,"title":"C3ar1","resolve":{"axis":{"y":"independent"}},"layer":[
    {"data":{"name":"bars"},"transform":[{"filter":{"field":"g","equal":"C3ar1"}}],"mark":{"type":"bar","stroke":"#555","strokeWidth":0.6},"encoding":{"x":{"field":"c","type":"nominal","title":null,"scale":{"domain":["WT","Smad4 KO"],"paddingInner":0.32,"paddingOuter":0.35},"axis":{"labelAngle":-90,"ticks":false,"labelPadding":4}},"y":{"field":"m","type":"quantitative","title":"TPM","scale":{"domain":[0,400],"nice":false},"axis":{"values":[0,100,200,300,400],"labelOverlap":false,"labelSeparation":-60}},"color":{"field":"c","type":"nominal","scale":{"domain":["WT","Smad4 KO","WT ","EKO"],"range":["#f7931e","#1aa24b","#e5302b","#3c4ea2"]},"legend":null}}},
    {"data":{"name":"bars"},"transform":[{"filter":{"field":"g","equal":"C3ar1"}}],"mark":{"type":"errorbar","ticks":{"size":13},"color":"#111","thickness":1},"encoding":{"x":{"field":"c","type":"nominal","title":null},"y":{"field":"lo","type":"quantitative","title":"TPM","axis":null},"y2":{"field":"hi"}}},
    {"data":{"name":"reps"},"transform":[{"filter":{"field":"g","equal":"C3ar1"}}],"mark":{"type":"circle","color":"#000","size":14,"opacity":1},"encoding":{"x":{"field":"c","type":"nominal","title":null},"xOffset":{"field":"r","type":"ordinal","scale":{"domain":[1,2,3,4,5],"paddingOuter":1}},"y":{"field":"v","type":"quantitative","title":"TPM","axis":null}}},
    {"data":{"name":"brk"},"transform":[{"filter":{"field":"g","equal":"C3ar1"}}],"mark":{"type":"line","color":"#333","strokeWidth":0.9},"encoding":{"x":{"field":"c","type":"nominal","title":null},"y":{"field":"y","type":"quantitative","title":"TPM","axis":null},"order":{"field":"o","type":"quantitative"},"detail":{"field":"id","type":"nominal"}}},
    {"data":{"name":"pv"},"transform":[{"filter":{"field":"g","equal":"C3ar1"}}],"mark":{"type":"text","fontSize":10.5,"baseline":"middle"},"encoding":{"x":{"field":"c","type":"nominal","title":null,"bandPosition":1.235},"y":{"field":"y","type":"quantitative","title":"TPM","axis":null},"text":{"field":"t"}}}
   ]}
 ]},
 {"title":{"text":"e","anchor":"start","frame":"bounds","fontSize":14,"fontWeight":"bold","fontStyle":"normal","offset":-15},
  "spacing":18,"align":"each",
  "hconcat":[
   {"width":90,"height":102,"title":"Sall3","resolve":{"axis":{"y":"independent"}},"layer":[
    {"data":{"name":"bars"},"transform":[{"filter":{"field":"g","equal":"Sall3"}}],"mark":{"type":"bar","stroke":"#555","strokeWidth":0.6},"encoding":{"x":{"field":"c","type":"nominal","title":null,"scale":{"domain":["WT ","EKO","WT","Smad4 KO"],"paddingInner":0.32,"paddingOuter":0.3},"axis":{"labelAngle":-90,"ticks":false,"labelPadding":4}},"y":{"field":"m","type":"quantitative","title":"TPM","scale":{"domain":[0,100],"nice":false},"axis":{"values":[0,20,40,60,80,100],"labelOverlap":false,"labelSeparation":-60,"minExtent":37,"maxExtent":37}},"color":{"field":"c","type":"nominal","scale":{"domain":["WT","Smad4 KO","WT ","EKO"],"range":["#f7931e","#1aa24b","#e5302b","#3c4ea2"]},"legend":null}}},
    {"data":{"name":"pv"},"transform":[{"filter":{"field":"g","equal":"Sall3"}},{"filter":{"field":"c","equal":"WT "}}],"mark":{"type":"rule","strokeDash":[4,3],"color":"#9a9a9a","strokeWidth":1},"encoding":{"x":{"datum":"EKO","type":"nominal","bandPosition":1.235,"title":null}}},
    {"data":{"name":"bars"},"transform":[{"filter":{"field":"g","equal":"Sall3"}}],"mark":{"type":"errorbar","ticks":{"size":10},"color":"#111","thickness":1},"encoding":{"x":{"field":"c","type":"nominal","title":null},"y":{"field":"lo","type":"quantitative","title":"TPM","axis":null},"y2":{"field":"hi"}}},
    {"data":{"name":"reps"},"transform":[{"filter":{"field":"g","equal":"Sall3"}}],"mark":{"type":"circle","color":"#000","size":14,"opacity":1},"encoding":{"x":{"field":"c","type":"nominal","title":null},"xOffset":{"field":"r","type":"ordinal","scale":{"domain":[1,2,3,4,5],"paddingOuter":1}},"y":{"field":"v","type":"quantitative","title":"TPM","axis":null}}},
    {"data":{"name":"brk"},"transform":[{"filter":{"field":"g","equal":"Sall3"}}],"mark":{"type":"line","color":"#333","strokeWidth":0.9},"encoding":{"x":{"field":"c","type":"nominal","title":null},"y":{"field":"y","type":"quantitative","title":"TPM","axis":null},"order":{"field":"o","type":"quantitative"},"detail":{"field":"id","type":"nominal"}}},
    {"data":{"name":"pv"},"transform":[{"filter":{"field":"g","equal":"Sall3"}}],"mark":{"type":"text","fontSize":10.5,"baseline":"middle"},"encoding":{"x":{"field":"c","type":"nominal","title":null,"bandPosition":1.235},"y":{"field":"y","type":"quantitative","title":"TPM","axis":null},"text":{"field":"t"}}}
   ]},
   {"width":102,"height":102,"title":"Smad3","resolve":{"axis":{"y":"independent"}},"layer":[
    {"data":{"name":"bars"},"transform":[{"filter":{"field":"g","equal":"Smad3"}}],"mark":{"type":"bar","stroke":"#555","strokeWidth":0.6},"encoding":{"x":{"field":"c","type":"nominal","title":null,"scale":{"domain":["WT ","EKO","WT","Smad4 KO"],"paddingInner":0.32,"paddingOuter":0.3},"axis":{"labelAngle":-90,"ticks":false,"labelPadding":4}},"y":{"field":"m","type":"quantitative","title":"TPM","scale":{"domain":[0,150],"nice":false},"axis":{"values":[0,50,100,150],"labelOverlap":false,"labelSeparation":-60}},"color":{"field":"c","type":"nominal","scale":{"domain":["WT","Smad4 KO","WT ","EKO"],"range":["#f7931e","#1aa24b","#e5302b","#3c4ea2"]},"legend":null}}},
    {"data":{"name":"pv"},"transform":[{"filter":{"field":"g","equal":"Smad3"}},{"filter":{"field":"c","equal":"WT "}}],"mark":{"type":"rule","strokeDash":[4,3],"color":"#9a9a9a","strokeWidth":1},"encoding":{"x":{"datum":"EKO","type":"nominal","bandPosition":1.235,"title":null}}},
    {"data":{"name":"bars"},"transform":[{"filter":{"field":"g","equal":"Smad3"}}],"mark":{"type":"errorbar","ticks":{"size":10},"color":"#111","thickness":1},"encoding":{"x":{"field":"c","type":"nominal","title":null},"y":{"field":"lo","type":"quantitative","title":"TPM","axis":null},"y2":{"field":"hi"}}},
    {"data":{"name":"reps"},"transform":[{"filter":{"field":"g","equal":"Smad3"}}],"mark":{"type":"circle","color":"#000","size":14,"opacity":1},"encoding":{"x":{"field":"c","type":"nominal","title":null},"xOffset":{"field":"r","type":"ordinal","scale":{"domain":[1,2,3,4,5],"paddingOuter":1}},"y":{"field":"v","type":"quantitative","title":"TPM","axis":null}}},
    {"data":{"name":"brk"},"transform":[{"filter":{"field":"g","equal":"Smad3"}}],"mark":{"type":"line","color":"#333","strokeWidth":0.9},"encoding":{"x":{"field":"c","type":"nominal","title":null},"y":{"field":"y","type":"quantitative","title":"TPM","axis":null},"order":{"field":"o","type":"quantitative"},"detail":{"field":"id","type":"nominal"}}},
    {"data":{"name":"pv"},"transform":[{"filter":{"field":"g","equal":"Smad3"}}],"mark":{"type":"text","fontSize":10.5,"baseline":"middle"},"encoding":{"x":{"field":"c","type":"nominal","title":null,"bandPosition":1.235},"y":{"field":"y","type":"quantitative","title":"TPM","axis":null},"text":{"field":"t"}}}
   ]},
   {"width":102,"height":102,"title":"Smad7","resolve":{"axis":{"y":"independent"}},"layer":[
    {"data":{"name":"bars"},"transform":[{"filter":{"field":"g","equal":"Smad7"}}],"mark":{"type":"bar","stroke":"#555","strokeWidth":0.6},"encoding":{"x":{"field":"c","type":"nominal","title":null,"scale":{"domain":["WT ","EKO","WT","Smad4 KO"],"paddingInner":0.32,"paddingOuter":0.3},"axis":{"labelAngle":-90,"ticks":false,"labelPadding":4}},"y":{"field":"m","type":"quantitative","title":"TPM","scale":{"domain":[0,100],"nice":false},"axis":{"values":[0,20,40,60,80,100],"labelOverlap":false,"labelSeparation":-60}},"color":{"field":"c","type":"nominal","scale":{"domain":["WT","Smad4 KO","WT ","EKO"],"range":["#f7931e","#1aa24b","#e5302b","#3c4ea2"]},"legend":null}}},
    {"data":{"name":"pv"},"transform":[{"filter":{"field":"g","equal":"Smad7"}},{"filter":{"field":"c","equal":"WT "}}],"mark":{"type":"rule","strokeDash":[4,3],"color":"#9a9a9a","strokeWidth":1},"encoding":{"x":{"datum":"EKO","type":"nominal","bandPosition":1.235,"title":null}}},
    {"data":{"name":"bars"},"transform":[{"filter":{"field":"g","equal":"Smad7"}}],"mark":{"type":"errorbar","ticks":{"size":10},"color":"#111","thickness":1},"encoding":{"x":{"field":"c","type":"nominal","title":null},"y":{"field":"lo","type":"quantitative","title":"TPM","axis":null},"y2":{"field":"hi"}}},
    {"data":{"name":"reps"},"transform":[{"filter":{"field":"g","equal":"Smad7"}}],"mark":{"type":"circle","color":"#000","size":14,"opacity":1},"encoding":{"x":{"field":"c","type":"nominal","title":null},"xOffset":{"field":"r","type":"ordinal","scale":{"domain":[1,2,3,4,5],"paddingOuter":1}},"y":{"field":"v","type":"quantitative","title":"TPM","axis":null}}},
    {"data":{"name":"brk"},"transform":[{"filter":{"field":"g","equal":"Smad7"}}],"mark":{"type":"line","color":"#333","strokeWidth":0.9},"encoding":{"x":{"field":"c","type":"nominal","title":null},"y":{"field":"y","type":"quantitative","title":"TPM","axis":null},"order":{"field":"o","type":"quantitative"},"detail":{"field":"id","type":"nominal"}}},
    {"data":{"name":"pv"},"transform":[{"filter":{"field":"g","equal":"Smad7"}}],"mark":{"type":"text","fontSize":10.5,"baseline":"middle"},"encoding":{"x":{"field":"c","type":"nominal","title":null,"bandPosition":1.235},"y":{"field":"y","type":"quantitative","title":"TPM","axis":null},"text":{"field":"t"}}}
   ]},
   {"width":107,"height":102,"title":"Skil","resolve":{"axis":{"y":"independent"}},"layer":[
    {"data":{"name":"bars"},"transform":[{"filter":{"field":"g","equal":"Skil"}}],"mark":{"type":"bar","stroke":"#555","strokeWidth":0.6},"encoding":{"x":{"field":"c","type":"nominal","title":null,"scale":{"domain":["WT ","EKO","WT","Smad4 KO"],"paddingInner":0.32,"paddingOuter":0.3},"axis":{"labelAngle":-90,"ticks":false,"labelPadding":4}},"y":{"field":"m","type":"quantitative","title":"TPM","scale":{"domain":[0,200],"nice":false},"axis":{"values":[0,50,100,150,200],"labelOverlap":false,"labelSeparation":-60}},"color":{"field":"c","type":"nominal","scale":{"domain":["WT","Smad4 KO","WT ","EKO"],"range":["#f7931e","#1aa24b","#e5302b","#3c4ea2"]},"legend":null}}},
    {"data":{"name":"pv"},"transform":[{"filter":{"field":"g","equal":"Skil"}},{"filter":{"field":"c","equal":"WT "}}],"mark":{"type":"rule","strokeDash":[4,3],"color":"#9a9a9a","strokeWidth":1},"encoding":{"x":{"datum":"EKO","type":"nominal","bandPosition":1.235,"title":null}}},
    {"data":{"name":"bars"},"transform":[{"filter":{"field":"g","equal":"Skil"}}],"mark":{"type":"errorbar","ticks":{"size":10},"color":"#111","thickness":1},"encoding":{"x":{"field":"c","type":"nominal","title":null},"y":{"field":"lo","type":"quantitative","title":"TPM","axis":null},"y2":{"field":"hi"}}},
    {"data":{"name":"reps"},"transform":[{"filter":{"field":"g","equal":"Skil"}}],"mark":{"type":"circle","color":"#000","size":14,"opacity":1},"encoding":{"x":{"field":"c","type":"nominal","title":null},"xOffset":{"field":"r","type":"ordinal","scale":{"domain":[1,2,3,4,5],"paddingOuter":1}},"y":{"field":"v","type":"quantitative","title":"TPM","axis":null}}},
    {"data":{"name":"brk"},"transform":[{"filter":{"field":"g","equal":"Skil"}}],"mark":{"type":"line","color":"#333","strokeWidth":0.9},"encoding":{"x":{"field":"c","type":"nominal","title":null},"y":{"field":"y","type":"quantitative","title":"TPM","axis":null},"order":{"field":"o","type":"quantitative"},"detail":{"field":"id","type":"nominal"}}},
    {"data":{"name":"pv"},"transform":[{"filter":{"field":"g","equal":"Skil"}}],"mark":{"type":"text","fontSize":10,"baseline":"middle"},"encoding":{"x":{"field":"c","type":"nominal","title":null,"bandPosition":1.235},"y":{"field":"y","type":"quantitative","title":"TPM","axis":null},"text":{"field":"t"}}}
   ]}
 ]}
]
}
